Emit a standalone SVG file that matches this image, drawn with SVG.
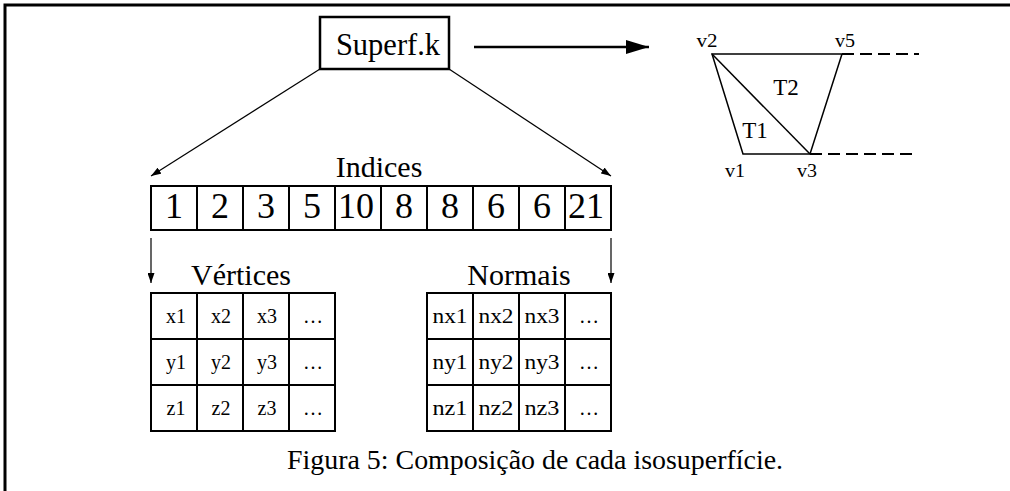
<svg xmlns="http://www.w3.org/2000/svg" width="1010" height="491" viewBox="0 0 1010 491" font-family="'Liberation Serif', 'DejaVu Serif', serif">
  <defs>
    <style>
      text { font-family: 'Liberation Serif', 'DejaVu Serif', serif; fill: #000; }
      .cell { fill: #fff; stroke: #000; stroke-width: 2; }
      .num { font-size: 36px; text-anchor: middle; }
      .val { font-size: 20px; text-anchor: middle; }
      .title { font-size: 30px; }
      .lbl { font-size: 18px; }
      .tri { font-size: 23px; }
      .thin { fill: none; stroke: #000; stroke-width: 1.2; }
      .edge { fill: none; stroke: #000; stroke-width: 1.5; }
      .dash { fill: none; stroke: #000; stroke-width: 2; stroke-dasharray: 12 6; }
    </style>
    <marker id="tip" markerUnits="userSpaceOnUse" markerWidth="10" markerHeight="7" viewBox="0 0 10 7" refX="10" refY="3.5" orient="auto">
      <path d="M0,0 L10,3.5 L0,7 z" fill="#000"/>
    </marker>
    <marker id="bigtip" markerUnits="userSpaceOnUse" markerWidth="23" markerHeight="14" viewBox="0 0 23 14" refX="23" refY="7" orient="auto">
      <path d="M0,0 L23,7 L0,14 z" fill="#000"/>
    </marker>
  </defs>

  <!-- page frame (top and left rules) -->
  <path d="M5,491 V5 H1010" fill="none" stroke="#000" stroke-width="3"/>

  <!-- surface node -->
  <g id="superf">
    <rect x="320" y="17" width="129" height="52" fill="#fff" stroke="#000" stroke-width="2.5"/>
    <text x="388" y="55" font-size="30.5" text-anchor="middle">Superf.k</text>
  </g>

  <!-- index array -->
  <g id="indices">
    <text class="title" x="379" y="177" text-anchor="middle">Indices</text>
    <rect class="cell" x="151" y="186" width="46" height="44"/>
    <rect class="cell" x="197" y="186" width="46" height="44"/>
    <rect class="cell" x="243" y="186" width="46" height="44"/>
    <rect class="cell" x="289" y="186" width="46" height="44"/>
    <rect class="cell" x="335" y="186" width="46" height="44"/>
    <rect class="cell" x="381" y="186" width="46" height="44"/>
    <rect class="cell" x="427" y="186" width="46" height="44"/>
    <rect class="cell" x="473" y="186" width="46" height="44"/>
    <rect class="cell" x="519" y="186" width="46" height="44"/>
    <rect class="cell" x="565" y="186" width="46" height="44"/>
    <text class="num" x="174" y="218">1</text>
    <text class="num" x="220" y="218">2</text>
    <text class="num" x="266" y="218">3</text>
    <text class="num" x="312" y="218">5</text>
    <text class="num" x="356" y="218">10</text>
    <text class="num" x="404" y="218">8</text>
    <text class="num" x="450" y="218">8</text>
    <text class="num" x="496" y="218">6</text>
    <text class="num" x="542" y="218">6</text>
    <text class="num" x="586" y="218">21</text>
  </g>

  <!-- vertex table -->
  <g id="vertices">
    <text class="title" x="241" y="285" text-anchor="middle">Vértices</text>
    <rect class="cell" x="151" y="293" width="46" height="46"/>
    <rect class="cell" x="197" y="293" width="46" height="46"/>
    <rect class="cell" x="243" y="293" width="46" height="46"/>
    <rect class="cell" x="289" y="293" width="46" height="46"/>
    <rect class="cell" x="151" y="339" width="46" height="46"/>
    <rect class="cell" x="197" y="339" width="46" height="46"/>
    <rect class="cell" x="243" y="339" width="46" height="46"/>
    <rect class="cell" x="289" y="339" width="46" height="46"/>
    <rect class="cell" x="151" y="385" width="46" height="46"/>
    <rect class="cell" x="197" y="385" width="46" height="46"/>
    <rect class="cell" x="243" y="385" width="46" height="46"/>
    <rect class="cell" x="289" y="385" width="46" height="46"/>
    <text class="val" x="176" y="323">x1</text>
    <text class="val" x="221" y="323">x2</text>
    <text class="val" x="267" y="323">x3</text>
    <text class="val" x="313" y="323">…</text>
    <text class="val" x="176" y="369">y1</text>
    <text class="val" x="221" y="369">y2</text>
    <text class="val" x="267" y="369">y3</text>
    <text class="val" x="313" y="369">…</text>
    <text class="val" x="176" y="415">z1</text>
    <text class="val" x="221" y="415">z2</text>
    <text class="val" x="267" y="415">z3</text>
    <text class="val" x="313" y="415">…</text>
  </g>

  <!-- normal table -->
  <g id="normais">
    <text class="title" x="519" y="285" text-anchor="middle">Normais</text>
    <rect class="cell" x="427" y="293" width="46" height="46"/>
    <rect class="cell" x="473" y="293" width="46" height="46"/>
    <rect class="cell" x="519" y="293" width="46" height="46"/>
    <rect class="cell" x="565" y="293" width="46" height="46"/>
    <rect class="cell" x="427" y="339" width="46" height="46"/>
    <rect class="cell" x="473" y="339" width="46" height="46"/>
    <rect class="cell" x="519" y="339" width="46" height="46"/>
    <rect class="cell" x="565" y="339" width="46" height="46"/>
    <rect class="cell" x="427" y="385" width="46" height="46"/>
    <rect class="cell" x="473" y="385" width="46" height="46"/>
    <rect class="cell" x="519" y="385" width="46" height="46"/>
    <rect class="cell" x="565" y="385" width="46" height="46"/>
    <text class="val" x="450" y="323" textLength="35" lengthAdjust="spacingAndGlyphs">nx1</text>
    <text class="val" x="496" y="323" textLength="35" lengthAdjust="spacingAndGlyphs">nx2</text>
    <text class="val" x="542" y="323" textLength="35" lengthAdjust="spacingAndGlyphs">nx3</text>
    <text class="val" x="589" y="323">…</text>
    <text class="val" x="450" y="369" textLength="35" lengthAdjust="spacingAndGlyphs">ny1</text>
    <text class="val" x="496" y="369" textLength="35" lengthAdjust="spacingAndGlyphs">ny2</text>
    <text class="val" x="542" y="369" textLength="35" lengthAdjust="spacingAndGlyphs">ny3</text>
    <text class="val" x="589" y="369">…</text>
    <text class="val" x="450" y="415" textLength="35" lengthAdjust="spacingAndGlyphs">nz1</text>
    <text class="val" x="496" y="415" textLength="35" lengthAdjust="spacingAndGlyphs">nz2</text>
    <text class="val" x="542" y="415" textLength="35" lengthAdjust="spacingAndGlyphs">nz3</text>
    <text class="val" x="589" y="415">…</text>
  </g>

  <!-- triangle strip sketch -->
  <g id="mesh">
    <path class="edge" d="M712,54 H842 L810,154 H743 Z"/>
    <path class="edge" d="M712,54 L810,154"/>
    <path class="dash" d="M842,54 H919"/>
    <path class="dash" d="M810,154 H912"/>
    <text class="lbl" x="707" y="47" text-anchor="middle" textLength="21" lengthAdjust="spacingAndGlyphs">v2</text>
    <text class="lbl" x="845" y="47" text-anchor="middle" textLength="20" lengthAdjust="spacingAndGlyphs">v5</text>
    <text class="lbl" x="735" y="177" text-anchor="middle" textLength="20" lengthAdjust="spacingAndGlyphs">v1</text>
    <text class="lbl" x="807" y="177" text-anchor="middle" textLength="20" lengthAdjust="spacingAndGlyphs">v3</text>
    <text class="tri" x="786" y="95" text-anchor="middle">T2</text>
    <text class="tri" x="755" y="138" text-anchor="middle">T1</text>
  </g>

  <!-- connectors -->
  <g id="connectors">
    <path class="thin" d="M320,69 L151,176" marker-end="url(#tip)"/>
    <path class="thin" d="M449,69 L611,176" marker-end="url(#tip)"/>
    <path class="thin" d="M151,238 V283" marker-end="url(#tip)"/>
    <path class="thin" d="M611,238 V283" marker-end="url(#tip)"/>
    <path d="M474,47 H649" fill="none" stroke="#000" stroke-width="2.5" marker-end="url(#bigtip)"/>
  </g>

  <!-- caption -->
  <text x="287" y="469" font-size="27" textLength="496" lengthAdjust="spacingAndGlyphs">Figura 5: Composição de cada isosuperfície.</text>
</svg>
